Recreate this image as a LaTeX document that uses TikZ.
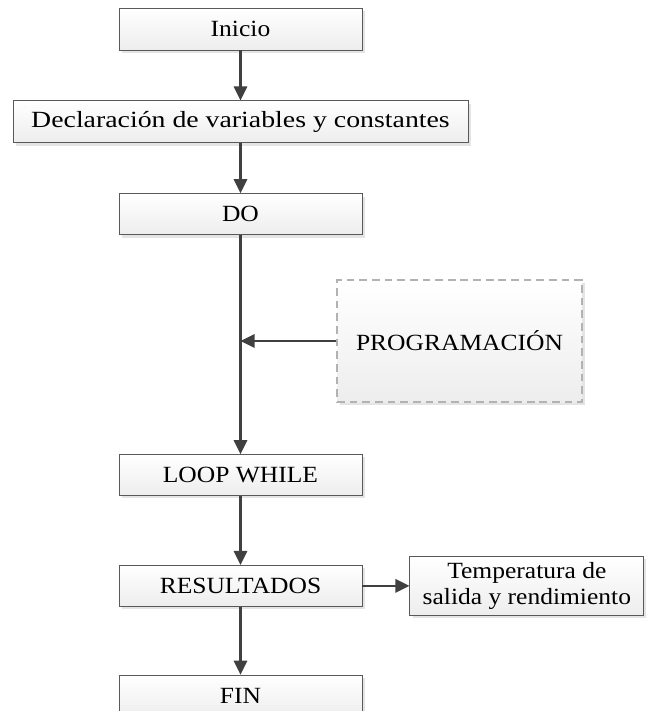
\documentclass[tikz,border=0pt]{standalone}
\usepackage{fontspec}
\setmainfont{Liberation Serif}[FakeStretch=1.1]
\usepackage{tikz}
\usetikzlibrary{arrows.meta,positioning,shadows}

\begin{document}
\begin{tikzpicture}[node distance=1.25cm,
    font=\fontsize{16.5}{18}\selectfont,
    box/.style={rectangle, draw=gray!70!black, line width=0.6pt, minimum width=6.075cm, minimum height=1.05cm, align=center,
        top color=white, bottom color=gray!14,
        drop shadow={shadow xshift=2pt, shadow yshift=-2pt, fill=gray!35, opacity=0.6}},
    dbox/.style={box, draw=gray!60, dash pattern=on 5.5pt off 3.5pt, line width=0.8pt},
    arrow/.style={-{Triangle[length=10pt,width=9.5pt]}, line width=1.6pt, draw=black!75, fill=black!75}]

    \useasboundingbox (0,0) rectangle (16.15,-17.775);

    % main column
    \node[box] (inicio) at (6.0125,-0.725) {Inicio};
    \node[box, minimum width=11.375cm, below=of inicio] (decl) {\scalebox{1.09}[1]{Declaración de variables y constantes}};
    \node[box, minimum height=1.025cm, below=of decl] (do) {DO};
    \node[box, minimum height=1.025cm, below=5.475cm of do] (loop) {LOOP WHILE};
    \node[box, minimum height=1.025cm, below=1.725cm of loop] (result) {RESULTADOS};
    \node[box, below=1.7cm of result] (fin) {FIN};

    % side boxes
    \node[dbox, minimum width=6.125cm, minimum height=3.05cm] (prog) at (11.4875,-8.525) {PROGRAMACIÓN};
    \node[box, minimum width=5.85cm, minimum height=1.475cm, right=1.175cm of result] (temp) {Temperatura de\\salida y rendimiento};

    % flow
    \draw[arrow] (inicio) -- (decl);
    \draw[arrow] (decl) -- (do);
    \draw[arrow] (do) -- (loop);
    \draw[arrow] (prog.west) -- (prog.west -| do.south);
    \draw[arrow] (loop) -- (result);
    \draw[arrow] (result) -- (temp);
    \draw[arrow] (result) -- (fin);

\end{tikzpicture}
\end{document}
